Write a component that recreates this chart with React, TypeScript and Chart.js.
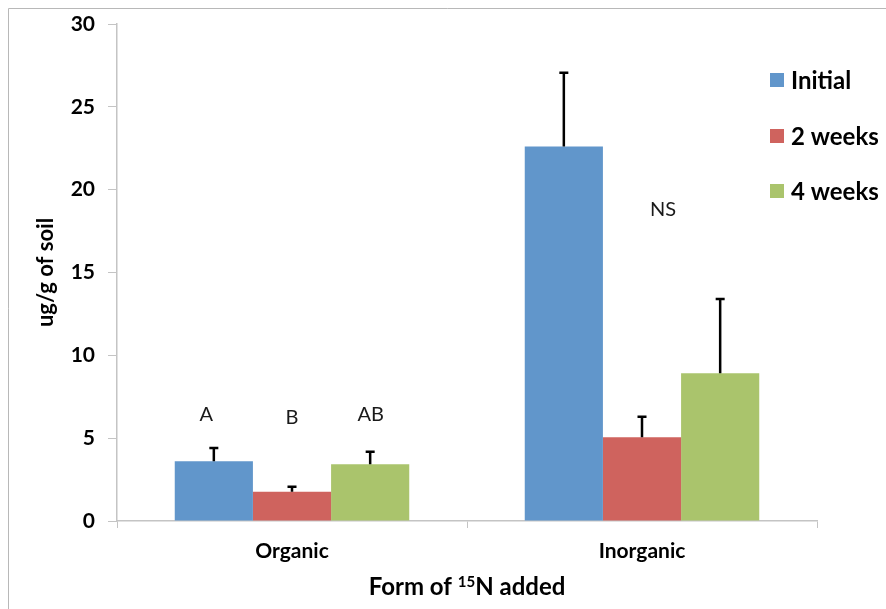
import React, { useEffect, useRef } from "react";
import { Chart, registerables } from "chart.js";

Chart.register(...registerables);

const categories = ["Organic", "Inorganic"];
const seriesNames = ["Initial", "2 weeks", "4 weeks"];
const initialValues = [3.6, 22.6];
const twoWeekValues = [1.77, 5.05];
const fourWeekValues = [3.42, 8.92];
const initialErrors = [0.8, 4.45];
const twoWeekErrors = [0.3, 1.25];
const fourWeekErrors = [0.76, 4.48];
const yTicks = [0, 5, 10, 15, 20, 25, 30];
const letterLabels = [
  { text: "A", x: -0.245, y: 6.4 },
  { text: "B", x: 0, y: 6.25 },
  { text: "AB", x: 0.225, y: 6.4 },
  { text: "NS", x: 1.06, y: 18.8 },
];

const colors = ["#6196CB", "#CF635E", "#AAC46C"];
const FONT = "Lato, 'Open Sans', sans-serif";

const drawPlugin = {
  id: "extras",
  afterDatasetsDraw(chart: any) {
    const ctx = chart.ctx;
    const y = chart.scales.y;
    const x = chart.scales.x;
    const errs = [initialErrors, twoWeekErrors, fourWeekErrors];
    ctx.save();
    chart.data.datasets.forEach((ds: any, di: number) => {
      const meta = chart.getDatasetMeta(di);
      meta.data.forEach((bar: any, i: number) => {
        const v = ds.data[i];
        const top = y.getPixelForValue(v + errs[di][i]);
        const base = y.getPixelForValue(v);
        ctx.strokeStyle = "#000";
        ctx.lineWidth = 2.5;
        ctx.beginPath();
        ctx.moveTo(bar.x, base);
        ctx.lineTo(bar.x, top);
        ctx.moveTo(bar.x - 4.5, top);
        ctx.lineTo(bar.x + 4.5, top);
        ctx.stroke();
      });
    });
    ctx.fillStyle = "#1a1a1a";
    ctx.font = `20px ${FONT}`;
    ctx.textAlign = "center";
    ctx.textBaseline = "middle";
    letterLabels.forEach((l) => {
      ctx.fillText(l.text, x.getPixelForValue(l.x), y.getPixelForValue(l.y));
    });
    ctx.restore();
  },
  afterDraw(chart: any) {
    const ctx = chart.ctx;
    const area = chart.chartArea;
    ctx.save();
    ctx.strokeStyle = "#b8b8b8";
    ctx.lineWidth = 1;
    ctx.beginPath();
    ctx.moveTo(8.5, chart.height);
    ctx.lineTo(8.5, 8.5);
    ctx.lineTo(chart.width, 8.5);
    ctx.stroke();
    // legend
    ctx.textAlign = "left";
    ctx.textBaseline = "middle";
    ctx.font = `bold 24px ${FONT}`;
    const legendY = [81, 137, 192];
    seriesNames.forEach((n, i) => {
      ctx.fillStyle = colors[i];
      ctx.fillRect(770, legendY[i] - 8, 14, 14);
      ctx.fillStyle = "#000";
      ctx.fillText(n, 791, legendY[i]);
    });
    // y title
    ctx.save();
    ctx.translate(46, (area.top + area.bottom) / 2);
    ctx.rotate(-Math.PI / 2);
    ctx.textAlign = "center";
    ctx.font = `bold 22px ${FONT}`;
    ctx.fillText("ug/g of soil", 0, 0);
    ctx.restore();
    // x title with superscript
    const cx = (area.left + area.right) / 2;
    const base = 595;
    const p1 = "Form of ";
    const sup = "15";
    const p2 = "N added";
    ctx.textBaseline = "alphabetic";
    ctx.font = `bold 24px ${FONT}`;
    const w1 = ctx.measureText(p1).width;
    const w3 = ctx.measureText(p2).width;
    ctx.font = `bold 15px ${FONT}`;
    const w2 = ctx.measureText(sup).width;
    let sx = cx - (w1 + w2 + w3) / 2;
    ctx.font = `bold 24px ${FONT}`;
    ctx.fillText(p1, sx, base);
    sx += w1;
    ctx.font = `bold 15px ${FONT}`;
    ctx.fillText(sup, sx, base - 8);
    sx += w2;
    ctx.font = `bold 24px ${FONT}`;
    ctx.fillText(p2, sx, base);
    ctx.restore();
  },
};

export default function App() {
  const ref = useRef<HTMLCanvasElement>(null);
  useEffect(() => {
    document.body.style.margin = "0";
    const chart = new Chart(ref.current!, {
      type: "bar",
      data: {
        labels: categories,
        datasets: [
          { label: seriesNames[0], data: initialValues, backgroundColor: colors[0] },
          { label: seriesNames[1], data: twoWeekValues, backgroundColor: colors[1] },
          { label: seriesNames[2], data: fourWeekValues, backgroundColor: colors[2] },
        ],
      },
      options: {
        animation: false,
        responsive: false,
        layout: { padding: { left: 0, right: 69, top: 24, bottom: 0 } },
        plugins: { legend: { display: false }, tooltip: { enabled: false } },
        datasets: { bar: { categoryPercentage: 0.67, barPercentage: 1 } },
        scales: {
          x: {
            grid: { drawOnChartArea: false, tickLength: 7, color: "#c4c4c4", offset: true },
            border: { color: "#c4c4c4", width: 1.5 },
            ticks: { color: "#000", font: { family: FONT, size: 21, weight: "bold" }, padding: 11 },
            afterFit: (s: any) => {
              s.height = 88;
              s.paddingLeft = 0;
              s.paddingRight = 0;
            },
          },
          y: {
            min: 0,
            max: 30,
            afterBuildTicks: (s: any) => {
              s.ticks = yTicks.map((v) => ({ value: v }));
            },
            grid: { drawOnChartArea: false, tickLength: 9, color: "#c4c4c4" },
            border: { color: "#c4c4c4", width: 1.5 },
            ticks: { color: "#000", font: { family: FONT, size: 21, weight: "bold" }, padding: 13 },
            afterFit: (s: any) => {
              s.width = 117;
              s.paddingTop = 0;
              s.paddingBottom = 0;
            },
          },
        },
      },
      plugins: [drawPlugin],
    } as any);
    return () => chart.destroy();
  }, []);
  return <canvas ref={ref} width={886} height={609} style={{ display: "block" }} />;
}
